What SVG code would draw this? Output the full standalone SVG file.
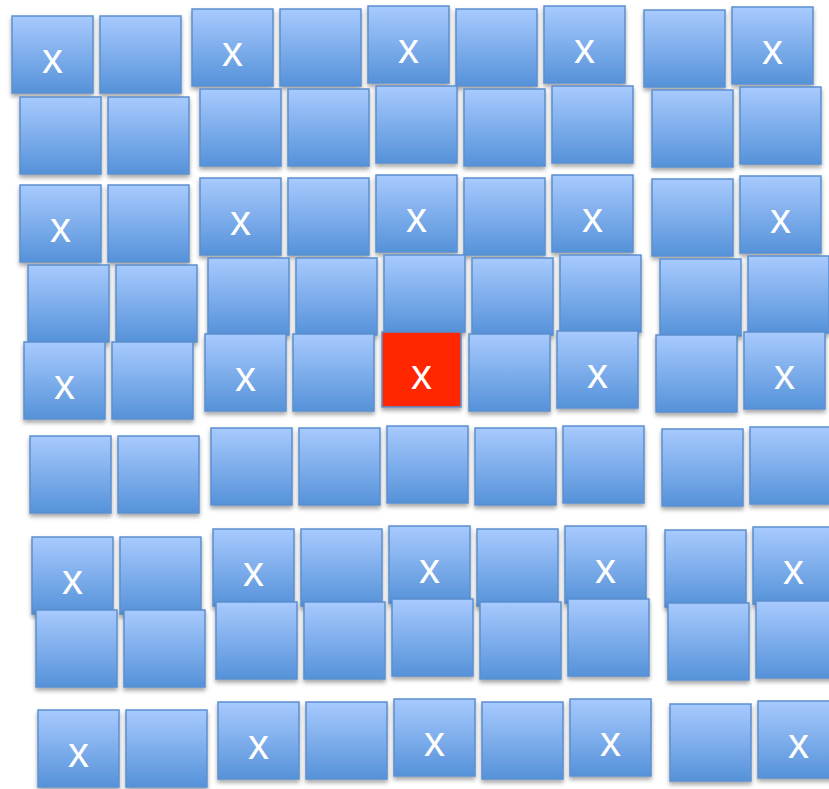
<svg xmlns="http://www.w3.org/2000/svg" width="829" height="789" viewBox="0 0 829 789">
<defs>
<linearGradient id="blue" x1="0" y1="0" x2="0" y2="1">
<stop offset="0" stop-color="#a8cafe"/>
<stop offset="1" stop-color="#5592d9"/>
</linearGradient>
<filter id="sh" x="-10%" y="-10%" width="125%" height="125%">
<feDropShadow dx="0" dy="3" stdDeviation="2" flood-color="#000" flood-opacity="0.35"/>
</filter>
</defs>
<style>
rect{stroke:#5b8fcf;stroke-width:1.5;filter:url(#sh)}
.b{fill:url(#blue)}
.r{fill:#ff2600}
text{font-family:"Liberation Sans",Arial,sans-serif;font-size:42px;fill:#fff;text-anchor:middle}
</style>
<rect width="829" height="789" fill="#fff" style="stroke:none;filter:none"/>
<g id="r1">
<g id="n1-1"><rect class="b" x="12" y="16" width="81" height="77"/><text x="52.5" y="73">x</text></g>
<g id="n1-2"><rect class="b" x="100" y="16" width="81" height="77"/></g>
<g id="n1-3"><rect class="b" x="192" y="9" width="81" height="77"/><text x="232.5" y="66">x</text></g>
<g id="n1-4"><rect class="b" x="280" y="9" width="81" height="77"/></g>
<g id="n1-5"><rect class="b" x="368" y="6" width="81" height="77"/><text x="408.5" y="63">x</text></g>
<g id="n1-6"><rect class="b" x="456" y="9" width="81" height="77"/></g>
<g id="n1-7"><rect class="b" x="544" y="6" width="81" height="77"/><text x="584.5" y="63">x</text></g>
<g id="n1-8"><rect class="b" x="644" y="10" width="81" height="77"/></g>
<g id="n1-9"><rect class="b" x="732" y="7" width="81" height="77"/><text x="772.5" y="64">x</text></g>
</g>
<g id="r2">
<g id="n2-1"><rect class="b" x="20" y="97" width="81" height="77"/></g>
<g id="n2-2"><rect class="b" x="108" y="97" width="81" height="77"/></g>
<g id="n2-3"><rect class="b" x="200" y="89" width="81" height="77"/></g>
<g id="n2-4"><rect class="b" x="288" y="89" width="81" height="77"/></g>
<g id="n2-5"><rect class="b" x="376" y="86" width="81" height="77"/></g>
<g id="n2-6"><rect class="b" x="464" y="89" width="81" height="77"/></g>
<g id="n2-7"><rect class="b" x="552" y="86" width="81" height="77"/></g>
<g id="n2-8"><rect class="b" x="652" y="90" width="81" height="77"/></g>
<g id="n2-9"><rect class="b" x="740" y="87" width="81" height="77"/></g>
</g>
<g id="r3">
<g id="n3-1"><rect class="b" x="20" y="185" width="81" height="77"/><text x="60.5" y="242">x</text></g>
<g id="n3-2"><rect class="b" x="108" y="185" width="81" height="77"/></g>
<g id="n3-3"><rect class="b" x="200" y="178" width="81" height="77"/><text x="240.5" y="235">x</text></g>
<g id="n3-4"><rect class="b" x="288" y="178" width="81" height="77"/></g>
<g id="n3-5"><rect class="b" x="376" y="175" width="81" height="77"/><text x="416.5" y="232">x</text></g>
<g id="n3-6"><rect class="b" x="464" y="178" width="81" height="77"/></g>
<g id="n3-7"><rect class="b" x="552" y="175" width="81" height="77"/><text x="592.5" y="232">x</text></g>
<g id="n3-8"><rect class="b" x="652" y="179" width="81" height="77"/></g>
<g id="n3-9"><rect class="b" x="740" y="176" width="81" height="77"/><text x="780.5" y="233">x</text></g>
</g>
<g id="r4">
<g id="n4-1"><rect class="b" x="28" y="265" width="81" height="77"/></g>
<g id="n4-2"><rect class="b" x="116" y="265" width="81" height="77"/></g>
<g id="n4-3"><rect class="b" x="208" y="258" width="81" height="77"/></g>
<g id="n4-4"><rect class="b" x="296" y="258" width="81" height="77"/></g>
<g id="n4-5"><rect class="b" x="384" y="255" width="81" height="77"/></g>
<g id="n4-6"><rect class="b" x="472" y="258" width="81" height="77"/></g>
<g id="n4-7"><rect class="b" x="560" y="255" width="81" height="77"/></g>
<g id="n4-8"><rect class="b" x="660" y="259" width="81" height="77"/></g>
<g id="n4-9"><rect class="b" x="748" y="256" width="81" height="77"/></g>
</g>
<g id="r5">
<g id="n5-1"><rect class="b" x="24" y="342" width="81" height="77"/><text x="64.5" y="399">x</text></g>
<g id="n5-2"><rect class="b" x="112" y="342" width="81" height="77"/></g>
<g id="n5-3"><rect class="b" x="205" y="334" width="81" height="77"/><text x="245.5" y="391">x</text></g>
<g id="n5-4"><rect class="b" x="293" y="334" width="81" height="77"/></g>
<g id="n5-5"><rect class="r" x="382" y="332" width="79" height="75"/><text x="421.5" y="389">x</text></g>
<g id="n5-6"><rect class="b" x="469" y="334" width="81" height="77"/></g>
<g id="n5-7"><rect class="b" x="557" y="331" width="81" height="77"/><text x="597.5" y="388">x</text></g>
<g id="n5-8"><rect class="b" x="656" y="335" width="81" height="77"/></g>
<g id="n5-9"><rect class="b" x="744" y="332" width="81" height="77"/><text x="784.5" y="389">x</text></g>
</g>
<g id="r6">
<g id="n6-1"><rect class="b" x="30" y="436" width="81" height="77"/></g>
<g id="n6-2"><rect class="b" x="118" y="436" width="81" height="77"/></g>
<g id="n6-3"><rect class="b" x="211" y="428" width="81" height="77"/></g>
<g id="n6-4"><rect class="b" x="299" y="428" width="81" height="77"/></g>
<g id="n6-5"><rect class="b" x="387" y="426" width="81" height="77"/></g>
<g id="n6-6"><rect class="b" x="475" y="428" width="81" height="77"/></g>
<g id="n6-7"><rect class="b" x="563" y="426" width="81" height="77"/></g>
<g id="n6-8"><rect class="b" x="662" y="429" width="81" height="77"/></g>
<g id="n6-9"><rect class="b" x="750" y="427" width="81" height="77"/></g>
</g>
<g id="r7">
<g id="n7-1"><rect class="b" x="32" y="537" width="81" height="77"/><text x="72.5" y="594">x</text></g>
<g id="n7-2"><rect class="b" x="120" y="537" width="81" height="77"/></g>
<g id="n7-3"><rect class="b" x="213" y="529" width="81" height="77"/><text x="253.5" y="586">x</text></g>
<g id="n7-4"><rect class="b" x="301" y="529" width="81" height="77"/></g>
<g id="n7-5"><rect class="b" x="389" y="526" width="81" height="77"/><text x="429.5" y="583">x</text></g>
<g id="n7-6"><rect class="b" x="477" y="529" width="81" height="77"/></g>
<g id="n7-7"><rect class="b" x="565" y="526" width="81" height="77"/><text x="605.5" y="583">x</text></g>
<g id="n7-8"><rect class="b" x="665" y="530" width="81" height="77"/></g>
<g id="n7-9"><rect class="b" x="753" y="527" width="81" height="77"/><text x="793.5" y="584">x</text></g>
</g>
<g id="r8">
<g id="n8-1"><rect class="b" x="36" y="610" width="81" height="77"/></g>
<g id="n8-2"><rect class="b" x="124" y="610" width="81" height="77"/></g>
<g id="n8-3"><rect class="b" x="216" y="602" width="81" height="77"/></g>
<g id="n8-4"><rect class="b" x="304" y="602" width="81" height="77"/></g>
<g id="n8-5"><rect class="b" x="392" y="599" width="81" height="77"/></g>
<g id="n8-6"><rect class="b" x="480" y="602" width="81" height="77"/></g>
<g id="n8-7"><rect class="b" x="568" y="599" width="81" height="77"/></g>
<g id="n8-8"><rect class="b" x="668" y="603" width="81" height="77"/></g>
<g id="n8-9"><rect class="b" x="756" y="601" width="81" height="77"/></g>
</g>
<g id="r9">
<g id="n9-1"><rect class="b" x="38" y="710" width="81" height="77"/><text x="78.5" y="767">x</text></g>
<g id="n9-2"><rect class="b" x="126" y="710" width="81" height="77"/></g>
<g id="n9-3"><rect class="b" x="218" y="702" width="81" height="77"/><text x="258.5" y="759">x</text></g>
<g id="n9-4"><rect class="b" x="306" y="702" width="81" height="77"/></g>
<g id="n9-5"><rect class="b" x="394" y="699" width="81" height="77"/><text x="434.5" y="756">x</text></g>
<g id="n9-6"><rect class="b" x="482" y="702" width="81" height="77"/></g>
<g id="n9-7"><rect class="b" x="570" y="699" width="81" height="77"/><text x="610.5" y="756">x</text></g>
<g id="n9-8"><rect class="b" x="670" y="704" width="81" height="77"/></g>
<g id="n9-9"><rect class="b" x="758" y="701" width="81" height="77"/><text x="798.5" y="758">x</text></g>
</g>
<g id="connectors"/>
</svg>
